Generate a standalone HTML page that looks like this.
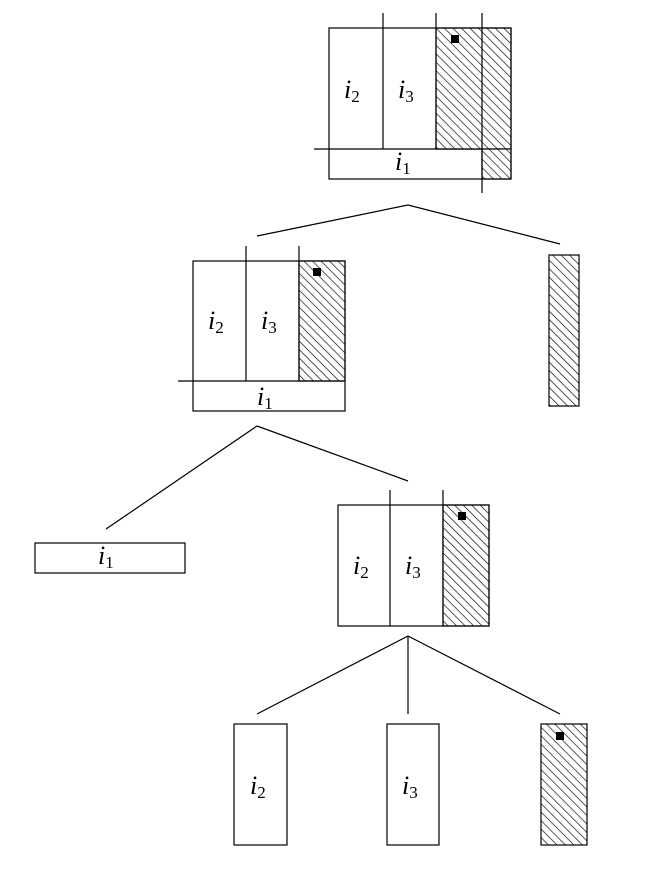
<!DOCTYPE html>
<html><head><meta charset="utf-8"><style>
html,body{margin:0;padding:0;background:#fff;}
svg{display:block;}
text{font-family:"Liberation Serif",serif;fill:#000;}
.i{font-style:italic;font-size:26px;}
.s{font-size:17px;}
</style></head><body>
<svg width="668" height="872" viewBox="0 0 668 872" xmlns="http://www.w3.org/2000/svg">
<defs>
<pattern id="h" patternUnits="userSpaceOnUse" width="6" height="6" patternTransform="rotate(-45)">
<rect width="6" height="6" fill="#fff"/>
<line x1="0" y1="0" x2="0" y2="6" stroke="#000" stroke-width="1.3"/>
</pattern>
</defs>
<g stroke="#000" stroke-width="1.2" fill="none">
<rect x="436" y="28" width="75" height="121" fill="url(#h)"/>
<rect x="482" y="149" width="29" height="30" fill="url(#h)"/>
<rect x="329" y="28" width="182" height="151"/>
<line x1="383" y1="13" x2="383" y2="149"/>
<line x1="436" y1="13" x2="436" y2="149"/>
<line x1="482" y1="13" x2="482" y2="193"/>
<line x1="314" y1="149" x2="482" y2="149"/>
<line x1="408" y1="205" x2="257" y2="236"/>
<line x1="408" y1="205" x2="560" y2="244"/>
<rect x="549" y="255" width="30" height="151" fill="url(#h)"/>
<rect x="299" y="261" width="46" height="120" fill="url(#h)"/>
<rect x="193" y="261" width="152" height="150"/>
<line x1="246" y1="246" x2="246" y2="381"/>
<line x1="299" y1="246" x2="299" y2="381"/>
<line x1="178" y1="381" x2="345" y2="381"/>
<line x1="257" y1="426" x2="106" y2="529"/>
<line x1="257" y1="426" x2="408" y2="481"/>
<rect x="35" y="543" width="150" height="30"/>
<rect x="443" y="505" width="46" height="121" fill="url(#h)"/>
<rect x="338" y="505" width="151" height="121"/>
<line x1="390" y1="490" x2="390" y2="626"/>
<line x1="443" y1="490" x2="443" y2="626"/>
<line x1="408" y1="636" x2="257" y2="714"/>
<line x1="408" y1="636" x2="408" y2="714"/>
<line x1="408" y1="636" x2="560" y2="714"/>
<rect x="234" y="724" width="53" height="121"/>
<rect x="387" y="724" width="52" height="121"/>
<rect x="541" y="724" width="46" height="121" fill="url(#h)"/>
</g>
<g fill="#000">
<rect x="451" y="35" width="8" height="8"/>
<rect x="313" y="268" width="8" height="8"/>
<rect x="458" y="512" width="8" height="8"/>
<rect x="556" y="732" width="8" height="8"/>
</g>
<text x="344" y="98" class="i">i<tspan class="s" font-style="normal" dy="4">2</tspan></text>
<text x="398" y="98" class="i">i<tspan class="s" font-style="normal" dy="4">3</tspan></text>
<text x="395" y="170" class="i">i<tspan class="s" font-style="normal" dy="4">1</tspan></text>
<text x="208" y="329" class="i">i<tspan class="s" font-style="normal" dy="4">2</tspan></text>
<text x="261" y="329" class="i">i<tspan class="s" font-style="normal" dy="4">3</tspan></text>
<text x="257" y="405" class="i">i<tspan class="s" font-style="normal" dy="4">1</tspan></text>
<text x="98" y="564" class="i">i<tspan class="s" font-style="normal" dy="4">1</tspan></text>
<text x="353" y="574" class="i">i<tspan class="s" font-style="normal" dy="4">2</tspan></text>
<text x="405" y="574" class="i">i<tspan class="s" font-style="normal" dy="4">3</tspan></text>
<text x="250" y="794" class="i">i<tspan class="s" font-style="normal" dy="4">2</tspan></text>
<text x="402" y="794" class="i">i<tspan class="s" font-style="normal" dy="4">3</tspan></text>
</svg>
</body></html>
